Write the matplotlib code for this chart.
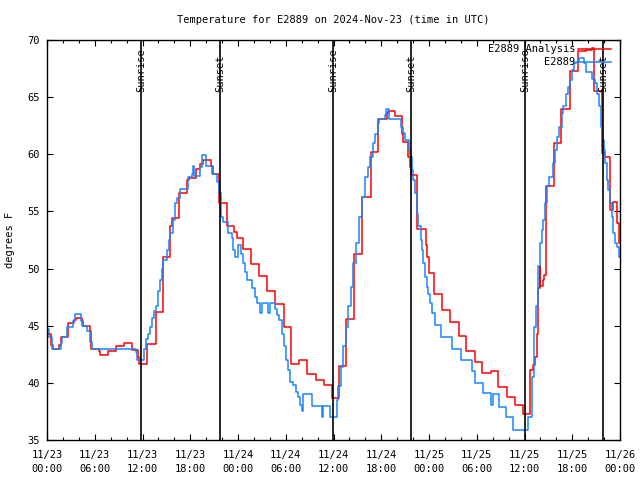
import matplotlib
matplotlib.use("Agg")
import matplotlib.pyplot as plt
from matplotlib.ticker import FixedLocator, MultipleLocator

title = "Temperature for E2889 on 2024-Nov-23 (time in UTC)"
ylabel = "degrees F"
series_names = ["E2889 Analysis", "E2889"]

# hours since 2024-11-23 00:00 UTC
analysis_hours = [0.0, 0.5, 0.75, 1.5, 1.72, 2.58, 3.39, 3.64, 4.4, 4.56, 5.4, 5.59,
                  6.5, 6.66, 7.7, 8.67, 9.71, 10.64, 11.47, 11.6, 12.53, 13.66, 14.58,
                  15.49, 15.75, 16.55, 17.55, 17.84, 18.66, 19.23, 19.64, 20.6, 20.86,
                  21.61, 22.62, 23.56, 23.88, 24.69, 25.66, 26.64, 27.67, 28.69, 29.72,
                  30.72, 31.64, 32.67, 33.74, 34.77, 35.78, 36.63, 37.51, 38.58, 39.56,
                  40.65, 41.59, 42.69, 42.89, 43.67, 44.63, 44.73, 45.34, 45.62, 45.74,
                  46.53, 47.66, 47.81, 48.04, 48.69, 49.67, 50.68, 51.75, 52.71, 53.72,
                  54.72, 55.79, 56.67, 57.77, 58.81, 59.75, 60.63, 61.07, 61.32, 61.53,
                  61.66, 61.74, 61.89, 62.01, 62.27, 62.45, 62.7, 63.7, 64.59, 65.72,
                  66.66, 67.73, 68.45, 68.78, 69.74, 70.12, 70.79, 71.16, 71.66, 71.92, 72.0]
analysis_temp = [44.3, 43.3, 43.0, 43.3, 44.0, 45.2, 45.5, 45.7, 45.4, 45.0, 44.5, 43.0,
                 42.8, 42.4, 42.8, 43.25, 43.5, 42.9, 42.3, 41.65, 43.4, 46.2, 51.0,
                 53.7, 54.4, 56.6, 57.75, 57.9, 58.7, 59.15, 59.5, 59.0, 58.3,
                 55.7, 53.7, 53.2, 52.7, 51.7, 50.4, 49.35, 48.0, 46.9, 44.9,
                 41.65, 42.0, 40.8, 40.25, 39.8, 38.7, 41.5, 45.6, 51.3, 56.3,
                 60.2, 63.1, 63.6, 63.8, 63.35, 61.8, 61.1, 59.8, 58.9, 58.2,
                 53.5, 52.1, 51.0, 49.6, 47.8, 46.4, 45.35, 44.1, 42.8, 41.8,
                 40.9, 41.0, 39.6, 38.8, 38.1, 37.3, 41.1, 41.6, 42.3, 44.3,
                 46.4, 48.3, 50.2, 48.5, 49.0, 49.4, 57.2, 61.0, 64.0, 67.3,
                 69.0, 69.1, 69.3, 65.5, 60.1, 59.8, 55.1, 55.85, 54.0, 52.2, 52.2]

station_hours = [0.0, 0.25, 0.67, 1.72, 1.9, 2.48, 3.23, 3.48, 4.23, 4.4, 4.99, 5.4, 5.69,
                 11.18, 11.31, 12.23, 12.44, 12.69, 12.98, 13.19, 13.4, 13.7, 13.95, 14.2,
                 14.41, 14.61, 15.04, 15.27, 15.46, 15.8, 16.08, 16.3, 16.71, 17.76, 18.18,
                 18.31, 18.47, 19.23, 19.44, 19.98, 20.7, 21.4, 21.61, 21.83, 22.08, 22.78,
                 23.21, 23.41, 23.62, 24.04, 24.38, 24.67, 24.88, 25.1, 25.72, 26.14, 26.35,
                 26.77, 26.98, 27.81, 28.02, 28.65, 28.94, 29.19, 29.49, 29.78, 30.03, 30.32,
                 30.54, 30.95, 31.29, 31.58, 31.79, 32.0, 32.21, 33.26, 34.52, 34.72, 35.56,
                 36.4, 36.6, 36.91, 37.23, 37.57, 37.86, 38.2, 38.49, 38.83, 39.24, 39.55,
                 39.96, 40.37, 40.59, 40.93, 41.22, 41.63, 41.76, 42.47, 42.6, 43.01, 44.45,
                 44.7, 44.99, 45.45, 45.62, 45.83, 46.03, 46.24, 46.46, 46.66, 46.96, 47.09,
                 47.29, 47.5, 47.71, 47.91, 48.13, 48.34, 48.76, 49.47, 50.85, 51.99, 53.37,
                 53.78, 54.83, 55.73, 56.01, 56.8, 57.68, 58.6, 60.48, 60.91, 61.2, 61.45,
                 61.74, 61.95, 62.16, 62.37, 62.58, 62.79, 63.12, 63.62, 63.84, 64.12, 64.38,
                 64.68, 64.88, 65.22, 65.51, 65.72, 65.93, 66.22, 66.47, 66.85, 67.48, 67.73,
                 68.45, 68.86, 69.15, 69.36, 69.58, 69.78, 69.99, 70.16, 70.34, 70.54, 70.75,
                 70.96, 71.16, 71.38, 71.66, 71.92, 72.0]
station_temp = [44.7, 44.0, 43.0, 43.5, 44.0, 44.9, 45.4, 46.0, 45.4, 45.0, 44.5, 43.6, 43.0,
                42.7, 42.0, 43.0, 43.8, 44.3, 44.9, 45.7, 46.3, 46.7, 48.0, 49.0,
                50.0, 50.75, 51.6, 52.5, 53.1, 54.25, 55.7, 56.2, 57.0, 58.0, 58.3,
                59.0, 58.1, 58.9, 59.9, 59.0, 58.3, 57.6, 56.6, 54.5, 54.1, 53.1,
                52.7, 51.6, 51.0, 52.1, 51.3, 50.5, 49.7, 49.0, 48.3, 47.5, 47.0,
                46.1, 47.0, 46.1, 47.0, 46.5, 45.9, 45.5, 44.3, 43.2, 42.0, 41.1,
                40.1, 39.8, 39.2, 38.8, 38.1, 37.5, 39.0, 38.0, 37.0, 38.0, 37.0,
                38.5, 39.7, 41.4, 43.2, 44.9, 46.7, 48.4, 50.5, 52.2, 54.5, 56.3,
                58.0, 58.9, 59.8, 61.0, 61.8, 62.7, 63.1, 63.4, 64.0, 63.1, 62.4,
                61.9, 61.25, 60.4, 59.8, 58.6, 57.75, 56.6, 54.8, 53.7, 52.5, 51.6,
                50.5, 49.3, 48.4, 47.8, 47.0, 46.1, 45.1, 44.0, 43.0, 42.0, 41.0,
                40.0, 39.1, 38.1, 39.0, 37.9, 37.0, 35.9, 37.0, 40.5, 44.9, 46.7,
                50.2, 52.2, 53.4, 54.25, 55.7, 57.2, 58.0, 59.2, 60.4, 61.5, 62.4,
                63.6, 64.2, 65.3, 65.9, 66.5, 67.4, 68.0, 68.1, 68.4, 68.0, 67.2,
                66.6, 66.2, 65.3, 64.2, 62.4, 61.25, 60.4, 59.2, 57.75, 56.9, 55.7,
                54.5, 53.1, 52.2, 51.9, 51.0, 51.0]

sun_hours = [11.81, 21.74, 35.94, 45.74, 60.07, 69.87]
sun_labels = ["Sunrise", "Sunset", "Sunrise", "Sunset", "Sunrise", "Sunset"]

xtick_hours = [0, 6, 12, 18, 24, 30, 36, 42, 48, 54, 60, 66, 72]
xtick_labels = ["11/23\n00:00", "11/23\n06:00", "11/23\n12:00", "11/23\n18:00",
                "11/24\n00:00", "11/24\n06:00", "11/24\n12:00", "11/24\n18:00",
                "11/25\n00:00", "11/25\n06:00", "11/25\n12:00", "11/25\n18:00",
                "11/26\n00:00"]
yticks = [35, 40, 45, 50, 55, 60, 65, 70]

red = "#ff0000"
blue = "#1a85ff"
mono = "DejaVu Sans Mono"

fig = plt.figure(figsize=(6.4, 4.8), dpi=100)
ax = fig.add_axes([47 / 640, 40 / 480, 573 / 640, 400 / 480])

ax.plot(analysis_hours, analysis_temp, drawstyle="steps-post", color=red, lw=1.1, zorder=2)
ax.plot(station_hours, station_temp, drawstyle="steps-post", color=blue, lw=1.1, zorder=2.1)

for h, lab in zip(sun_hours, sun_labels):
    ax.axvline(h, color="black", lw=1.2, zorder=3)
    ax.text(h, 65.45, lab, rotation=90, ha="center", va="bottom",
            fontsize=7.5, family=mono, zorder=4)

ax.set_xlim(0, 72)
ax.set_ylim(35, 70)
ax.xaxis.set_major_locator(FixedLocator(xtick_hours))
ax.set_xticklabels(xtick_labels, family=mono, fontsize=7.5, linespacing=1.5)
ax.xaxis.set_minor_locator(MultipleLocator(2))
ax.set_yticks(yticks)
ax.set_yticklabels([str(v) for v in yticks], family=mono, fontsize=7.5)

ax.tick_params(which="both", direction="in", top=True, right=True, width=0.8)
ax.tick_params(which="major", length=4.5)
ax.tick_params(which="minor", length=2.5)
ax.tick_params(axis="x", pad=7)
ax.tick_params(axis="y", pad=5)
for s in ax.spines.values():
    s.set_linewidth(1.0)

ax.set_title(title, family=mono, fontsize=7.5, pad=12)
ax.set_ylabel(ylabel, family=mono, fontsize=7.5, labelpad=9)

# legend (gnuplot style: right-aligned text, sample to the right)
leg_rows = [(series_names[0], red, 1 - 9.3 / 400), (series_names[1], blue, 1 - 22.3 / 400)]
for name, col, yy in leg_rows:
    ax.text((575 - 47) / 573, yy, name, transform=ax.transAxes, ha="right", va="center",
            family=mono, fontsize=7.5, zorder=5)
    ax.plot([(578 - 47) / 573, (611 - 47) / 573], [yy, yy], transform=ax.transAxes,
            color=col, lw=1.1, zorder=5)

fig.savefig("out.png", dpi=100)
